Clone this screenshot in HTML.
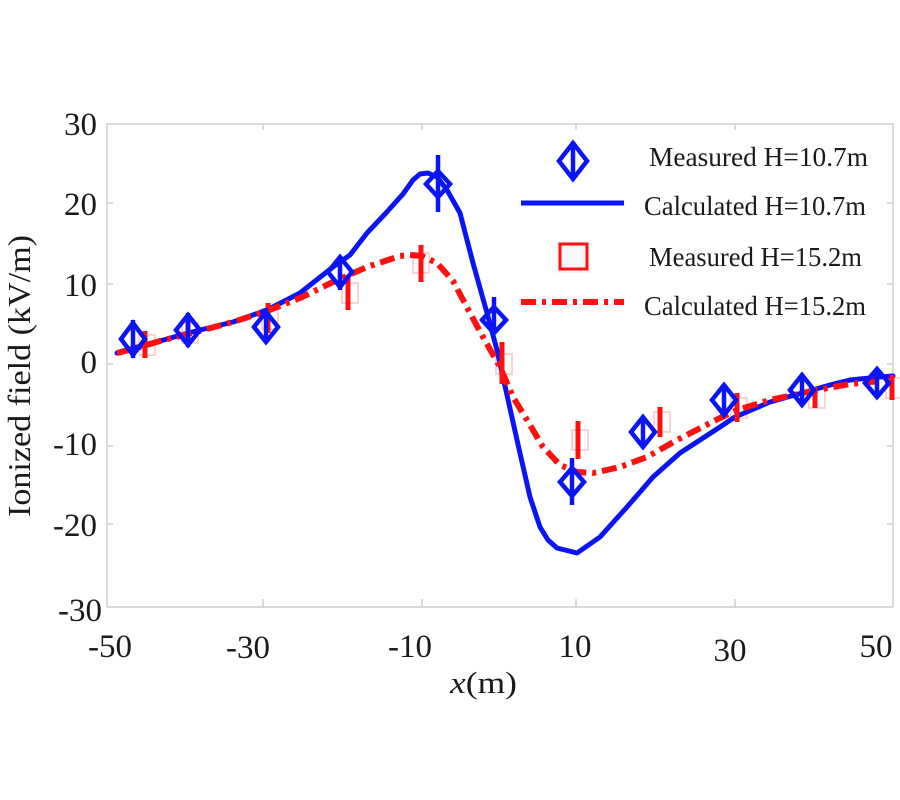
<!DOCTYPE html>
<html><head><meta charset="utf-8"><style>
html,body{margin:0;padding:0;background:#fff;}
svg{display:block;}
text{font-family:"Liberation Serif","Times New Roman",serif;fill:#1a1a1a;}
</style></head><body>
<svg width="900" height="800" viewBox="0 0 900 800" xmlns="http://www.w3.org/2000/svg">
<rect x="0" y="0" width="900" height="800" fill="#fff"/>
<!-- frame -->
<rect x="107" y="124" width="786" height="483" fill="none" stroke="#cfcfcf" stroke-width="1.5"/>
<g stroke="#cfcfcf" stroke-width="1.5">
<line x1="263" y1="124" x2="263" y2="130"/><line x1="422" y1="124" x2="422" y2="130"/><line x1="576" y1="124" x2="576" y2="130"/><line x1="735" y1="124" x2="735" y2="130"/>
<line x1="263" y1="607" x2="263" y2="599"/><line x1="422" y1="607" x2="422" y2="599"/><line x1="576" y1="607" x2="576" y2="599"/><line x1="735" y1="607" x2="735" y2="599"/>
<line x1="107" y1="203" x2="113" y2="203"/><line x1="107" y1="284" x2="113" y2="284"/><line x1="107" y1="364" x2="113" y2="364"/><line x1="107" y1="446" x2="113" y2="446"/><line x1="107" y1="524" x2="113" y2="524"/>
<line x1="893" y1="203" x2="887" y2="203"/><line x1="893" y1="284" x2="887" y2="284"/><line x1="893" y1="364" x2="887" y2="364"/><line x1="893" y1="446" x2="887" y2="446"/><line x1="893" y1="524" x2="887" y2="524"/>
</g>
<!-- y tick labels -->
<g font-size="33" text-anchor="end">
<text x="97" y="135">30</text>
<text x="97" y="215">20</text>
<text x="97" y="296">10</text>
<text x="97" y="373">0</text>
<text x="97" y="455">-10</text>
<text x="97" y="536">-20</text>
<text x="102" y="621">-30</text>
</g>
<!-- x tick labels -->
<g font-size="33" text-anchor="middle">
<text x="110" y="657">-50</text>
<text x="248" y="658">-30</text>
<text x="410" y="657">-10</text>
<text x="575" y="657">10</text>
<text x="730" y="661">30</text>
<text x="876" y="657">50</text>
</g>
<text x="450" y="693" font-size="31" textLength="67" lengthAdjust="spacingAndGlyphs"><tspan font-style="italic">x</tspan>(m)</text>
<text transform="translate(30,517) rotate(-90)" font-size="32" textLength="282" lengthAdjust="spacingAndGlyphs">Ionized field (kV/m)</text>

<!-- faint red squares -->
<g fill="none" stroke="#fbd3d3" stroke-width="2">
<rect x="139" y="335" width="16" height="20"/>
<rect x="182" y="323" width="16" height="20"/>
<rect x="262" y="309" width="16" height="20"/>
<rect x="342" y="283" width="16" height="20"/>
<rect x="413" y="253" width="16" height="20"/>
<rect x="496" y="354" width="16" height="20"/>
<rect x="572" y="430" width="16" height="20"/>
<rect x="654" y="412" width="16" height="20"/>
<rect x="731" y="398" width="16" height="20"/>
<rect x="809" y="388" width="16" height="20"/>
<rect x="886" y="378" width="16" height="20"/>
</g>

<!-- blue calculated -->
<polyline fill="none" stroke="#0a14f5" stroke-width="5" stroke-linejoin="round" stroke-linecap="round"
points="117,353 133,348 160,341 188,333 233,322 267,310 300,293 333,267 350,255 367,233 385,214 403,194 413,180 420,174 428,173 437,177 447,190 460,213 473,263 487,313 497,350 507,395 517,440 530,497 540,527 548,540 557,548 577,553 600,537 627,507 653,477 680,453 720,427 735,417 770,402 802,393 830,385 850,380 880,377 893,376"/>

<!-- red calculated -->
<polyline fill="none" stroke="#ff1010" stroke-width="6" stroke-dasharray="15 6 4 6" stroke-linejoin="round"
points="117,353 133,349 160,341 188,334 233,322 267,311 300,298 333,282 367,267 400,256 410,255 422,256 437,263 453,281 470,313 483,337 500,367 513,397 527,420 543,447 560,465 577,472 593,473 620,467 647,457 677,440 720,418 737,410 770,400 817,390 850,384 893,380"/>

<!-- red error bars -->
<g stroke="#ff1010" stroke-width="5">
<line x1="145" y1="331" x2="145" y2="358"/>
<line x1="188" y1="320" x2="188" y2="346"/>
<line x1="268" y1="303" x2="268" y2="333"/>
<line x1="348" y1="275" x2="348" y2="310"/>
<line x1="421" y1="245" x2="421" y2="282"/>
<line x1="502" y1="342" x2="502" y2="384"/>
<line x1="578" y1="421" x2="578" y2="459"/>
<line x1="660" y1="407" x2="660" y2="437"/>
<line x1="737" y1="393" x2="737" y2="422"/>
<line x1="815" y1="387" x2="815" y2="408"/>
<line x1="892" y1="375" x2="892" y2="400"/>
</g>

<!-- blue measured diamonds -->
<g fill="none" stroke="#0a14f5" stroke-width="4.5">
<polygon points="133,323 145,339 133,355 121,339"/><line x1="133" y1="320" x2="133" y2="358"/>
<polygon points="188,315 200,330 188,345 176,330"/><line x1="188" y1="313" x2="188" y2="347"/>
<polygon points="266,312 278,327 266,342 254,327"/><line x1="266" y1="308" x2="266" y2="342"/>
<polygon points="340,257 352,272 340,287 328,272"/><line x1="340" y1="256" x2="340" y2="290"/>
<polygon points="438,171 450,184 438,197 426,184"/><line x1="438" y1="155" x2="438" y2="212"/>
<polygon points="494,307 506,320 494,333 482,320"/><line x1="494" y1="297" x2="494" y2="334"/>
<polygon points="572,468 584,482 572,496 560,482"/><line x1="572" y1="458" x2="572" y2="505"/>
<polygon points="643,417 655,432 643,447 631,432"/><line x1="643" y1="417" x2="643" y2="447"/>
<polygon points="724,385 736,400 724,415 712,400"/><line x1="724" y1="385" x2="724" y2="415"/>
<polygon points="802,375 814,390 802,405 790,390"/><line x1="802" y1="375" x2="802" y2="405"/>
<polygon points="877,369 889,383 877,397 865,383"/><line x1="877" y1="369" x2="877" y2="397"/>
</g>

<!-- legend -->
<g fill="none" stroke="#0a14f5" stroke-width="4.5">
<polygon points="573,143 587,161 573,179 559,161"/><line x1="573" y1="142" x2="573" y2="180"/>
<line x1="521" y1="203" x2="624" y2="203" stroke-width="5"/>
</g>
<rect x="556" y="241" width="34" height="32" fill="#f2f4f9" stroke="none" opacity="0.8"/>
<rect x="560" y="244" width="27" height="25" fill="#f6f7fb" stroke="#ff1010" stroke-width="3"/>
<line x1="521" y1="302" x2="624" y2="302" stroke="#ff1010" stroke-width="6" stroke-dasharray="15 6 4 6"/>
<g font-size="27">
<text x="649" y="166" textLength="219" lengthAdjust="spacingAndGlyphs">Measured  H=10.7m</text>
<text x="644" y="215" textLength="222" lengthAdjust="spacingAndGlyphs">Calculated H=10.7m</text>
<text x="649" y="266" textLength="213" lengthAdjust="spacingAndGlyphs">Measured H=15.2m</text>
<text x="644" y="315" textLength="222" lengthAdjust="spacingAndGlyphs">Calculated H=15.2m</text>
</g>
</svg>
</body></html>
